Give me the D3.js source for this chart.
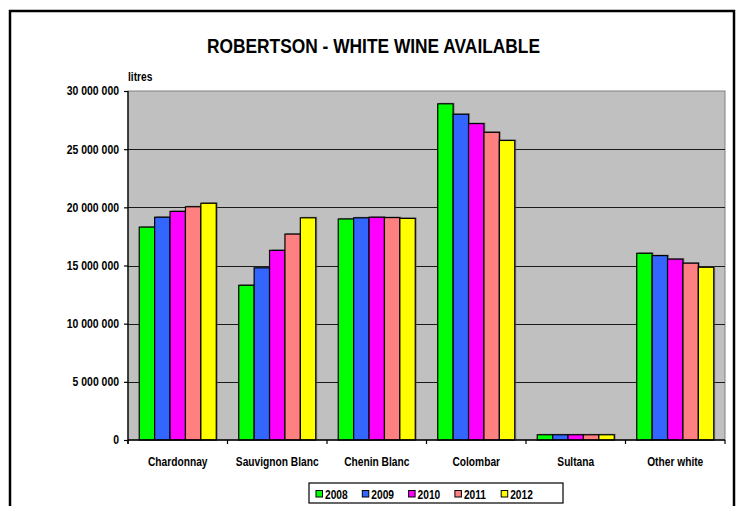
<!DOCTYPE html>
<html>
<head>
<meta charset="utf-8">
<script src="https://cdn.jsdelivr.net/npm/d3@7"></script>
<style>
  html, body { margin: 0; padding: 0; background: #fff; }
  svg { display: block; }
  text { font-family: "Liberation Sans", Arial, sans-serif; font-weight: bold; fill: #000; }
</style>
</head>
<body>
<svg id="chart" width="742" height="506"></svg>
<script>
const categories = ["Chardonnay", "Sauvignon Blanc", "Chenin Blanc", "Colombar", "Sultana", "Other white"];
const years = ["2008", "2009", "2010", "2011", "2012"];
const values2008 = [18300000, 13300000, 19000000, 28900000, 450000, 16050000];
const values2009 = [19150000, 14800000, 19100000, 28000000, 450000, 15850000];
const values2010 = [19650000, 16300000, 19150000, 27200000, 450000, 15550000];
const values2011 = [20050000, 17700000, 19120000, 26450000, 450000, 15200000];
const values2012 = [20350000, 19100000, 19050000, 25750000, 450000, 14850000];
const seriesValues = [values2008, values2009, values2010, values2011, values2012];
const colors = ["#00FF00", "#3366FF", "#FF00FF", "#FF8080", "#FFFF00"];
const yTicks = [0, 5000000, 10000000, 15000000, 20000000, 25000000, 30000000];
const titleText = "ROBERTSON - WHITE WINE AVAILABLE";
const yUnit = "litres";

const svg = d3.select("#chart");
const plot = { left: 128, right: 725, top: 91, bottom: 440 };

function condense(sel, f) {
  sel.each(function () {
    const w = this.getComputedTextLength();
    d3.select(this).attr("textLength", w * f).attr("lengthAdjust", "spacingAndGlyphs");
  });
}

// outer border
svg.append("rect").attr("x", 10).attr("y", 11).attr("width", 724).attr("height", 520)
  .attr("fill", "none").attr("stroke", "#000").attr("stroke-width", 2.5);

// title
svg.append("text").attr("x", 373.5).attr("y", 53).attr("text-anchor", "middle")
  .style("font-size", "21px").text(titleText)
  .attr("textLength", 333).attr("lengthAdjust", "spacingAndGlyphs");

const y = d3.scaleLinear().domain([0, 30000000]).range([plot.bottom, plot.top]);
const x0 = d3.scaleBand().domain(categories).range([plot.left, plot.right]).padding(0);
const x1 = d3.scaleBand().domain(years).range([0, x0.bandwidth()]).paddingInner(0).paddingOuter(0.73);

// plot background
svg.append("rect").attr("x", plot.left).attr("y", plot.top)
  .attr("width", plot.right - plot.left).attr("height", plot.bottom - plot.top)
  .attr("fill", "#C0C0C0").attr("stroke", "#808080").attr("stroke-width", 1);

// gridlines
svg.append("g").selectAll("line").data(yTicks.filter(d => d > 0 && d < 30000000)).join("line")
  .attr("x1", plot.left).attr("x2", plot.right)
  .attr("y1", d => Math.round(y(d)) + 0.5).attr("y2", d => Math.round(y(d)) + 0.5)
  .attr("stroke", "#1a1a1a").attr("stroke-width", 1);

// bars
const groups = svg.append("g").selectAll("g").data(categories).join("g")
  .attr("transform", c => `translate(${x0(c)},0)`);
years.forEach((yr, si) => {
  groups.append("rect")
    .attr("x", (c, ci) => x1(yr) + 1.5)
    .attr("y", (c, ci) => y(seriesValues[si][ci]) - 1)
    .attr("width", x1.bandwidth())
    .attr("height", (c, ci) => plot.bottom - y(seriesValues[si][ci]) + 1)
    .attr("fill", "#555").attr("opacity", 0.55);
});
years.forEach((yr, si) => {
  groups.append("rect")
    .attr("x", (c, ci) => x1(yr))
    .attr("y", (c, ci) => y(seriesValues[si][ci]))
    .attr("width", x1.bandwidth())
    .attr("height", (c, ci) => plot.bottom - y(seriesValues[si][ci]))
    .attr("fill", colors[si]).attr("stroke", "#000").attr("stroke-width", 1.2);
});

// y axis
const yAxis = d3.axisLeft(y).tickValues(yTicks).tickSize(4).tickPadding(5)
  .tickFormat(d => d3.format(",")(d).replace(/,/g, " "));
const ya = svg.append("g").attr("transform", `translate(${plot.left},0)`).call(yAxis);
ya.select(".domain").attr("d", `M0,${plot.top}V${plot.bottom + 4}`).attr("stroke", "#000").attr("stroke-width", 1.3);
ya.selectAll(".tick line").attr("stroke", "#000").attr("stroke-width", 1.2);
ya.selectAll(".tick text").style("font-size", "12px").style("font-family", "'Liberation Sans', Arial, sans-serif")
  .style("font-weight", "bold").attr("fill", "#000").call(condense, 0.87);

// x axis
const xa = svg.append("g").attr("transform", `translate(0,${plot.bottom})`);
xa.append("line").attr("x1", plot.left).attr("x2", plot.right).attr("y1", 0).attr("y2", 0)
  .attr("stroke", "#000").attr("stroke-width", 1.3);
const boundaries = categories.map(c => x0(c)).concat([x0(categories[categories.length - 1]) + x0.bandwidth()]);
xa.selectAll("line.tk").data(boundaries).join("line").attr("class", "tk")
  .attr("x1", d => d).attr("x2", d => d).attr("y1", 0).attr("y2", 4)
  .attr("stroke", "#000").attr("stroke-width", 1.2);
xa.selectAll("text").data(categories).join("text")
  .attr("x", c => x0(c) + x0.bandwidth() / 2).attr("y", 26)
  .attr("text-anchor", "middle").style("font-size", "12px").text(c => c).call(condense, 0.85);

// unit label
svg.append("text").attr("x", 128).attr("y", 81).style("font-size", "12px").text(yUnit).call(condense, 0.85);

// legend
const lg = svg.append("g").attr("transform", "translate(309,483)");
lg.append("rect").attr("x", 0).attr("y", 0).attr("width", 254).attr("height", 20)
  .attr("fill", "#fff").attr("stroke", "#000").attr("stroke-width", 1.2);
const items = lg.selectAll("g").data(years).join("g")
  .attr("transform", (d, i) => `translate(${7 + i * 46.3},0)`);
items.append("rect").attr("x", 0).attr("y", 7.5).attr("width", 6.5).attr("height", 6.5)
  .attr("fill", (d, i) => colors[i]).attr("stroke", "#000").attr("stroke-width", 1);
items.append("text").attr("x", 9).attr("y", 15.5).style("font-size", "12px").text(d => d).call(condense, 0.85);
</script>
</body>
</html>
